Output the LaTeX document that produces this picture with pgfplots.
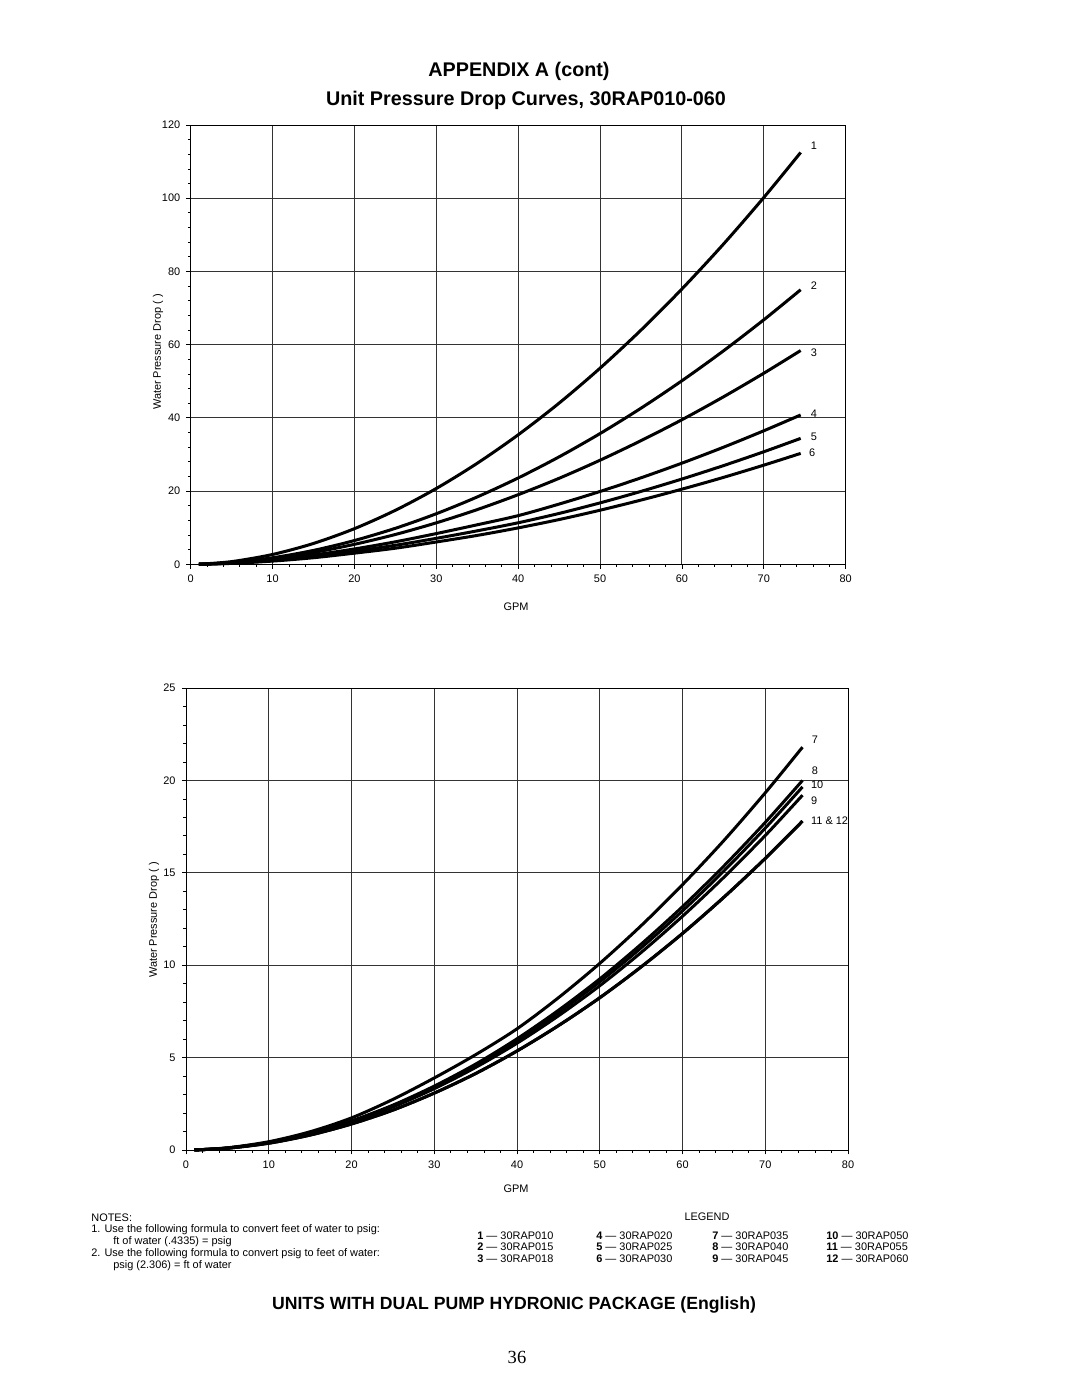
\documentclass[border=0pt]{standalone}
\usepackage{fontspec}
\setmainfont{Liberation Sans}
\newfontfamily\timesfont{Liberation Serif}
\usepackage{pgfplots}
\pgfplotsset{compat=1.18}

\tikzset{
  lab/.style={anchor=west, inner sep=0pt, font=\fontsize{6.2}{7}\selectfont},
}
\pgfplotsset{
  curve/.style={black, line width=1.7pt, smooth, mark=none},
  pd/.style={
    scale only axis,
    clip=false,
    xmin=0, xmax=80, xtick distance=10,
    minor x tick num=4, minor y tick num=4,
    xtick pos=bottom, ytick pos=left,
    grid=major,
    major grid style={black!80, line width=0.55pt},
    axis line style={black, line width=0.55pt},
    tick align=outside,
    major tick length=2.4pt,
    minor tick length=1.5pt,
    every tick/.style={black, line width=0.45pt},
    tick label style={font=\fontsize{6.2}{7}\selectfont},
    /pgf/number format/assume math mode=true,
  },
}

\begin{document}
\begin{tikzpicture}[x=0.5667pt,y=-0.5667pt]
\useasboundingbox (0,0) rectangle (1080,1397);

\node[font=\bfseries\fontsize{11.2}{13}\selectfont] at (519,71) {APPENDIX A (cont)};
\node[font=\bfseries\fontsize{11.2}{13}\selectfont] at (526,100) {Unit Pressure Drop Curves, 30RAP010-060};

% ---------------- top chart ----------------
\begin{axis}[pd, at={(108.07pt,-319.79pt)}, anchor=south west,
  width=371.19pt, height=248.95pt, ymin=0, ymax=120, ytick distance=20]
% 1 - 30RAP010
\addplot[curve] coordinates {(1,0.03) (5,0.74) (10,2.69) (15,5.70) (20,9.74) (25,14.76) (30,20.72) (35,27.61) (40,35.38) (45,44.04) (50,53.58) (55,63.98) (60,75.22) (65,87.29) (70,100.2) (74.5,112.5)};
% 2 - 30RAP015
\addplot[curve] coordinates {(1,0.02) (5,0.49) (10,1.79) (15,3.8) (20,6.5) (25,9.84) (30,13.82) (35,18.41) (40,23.59) (45,29.36) (50,35.72) (55,42.65) (60,50.15) (65,58.19) (70,66.8) (74.5,75.0)};
% 3 - 30RAP018
\addplot[curve] coordinates {(1,0.02) (5,0.45) (10,1.57) (15,3.24) (20,5.46) (25,8.15) (30,11.33) (35,14.95) (40,19.02) (45,23.5) (50,28.44) (55,33.78) (60,39.5) (65,45.66) (70,52.2) (74.5,58.4)};
% 4 - 30RAP020
\addplot[curve] coordinates {(1,0.02) (5,0.4) (10,1.25) (15,2.55) (20,4.2) (25,6.15) (30,8.4) (35,10.8) (40,13.3) (45,16.46) (50,19.9) (55,23.63) (60,27.64) (65,31.92) (70,36.48) (74.5,40.8)};
% 5 - 30RAP025
\addplot[curve] coordinates {(1,0.02) (5,0.3) (10,1.05) (15,2.15) (20,3.6) (25,5.2) (30,7.1) (35,9.15) (40,11.35) (45,13.9) (50,16.78) (55,19.92) (60,23.3) (65,26.91) (70,30.75) (74.5,34.4)};
% 6 - 30RAP030
\addplot[curve] coordinates {(1,0.02) (5,0.25) (10,0.88) (15,1.8) (20,3.05) (25,4.4) (30,6.1) (35,7.9) (40,9.95) (45,12.23) (50,14.78) (55,17.55) (60,20.53) (65,23.7) (70,27.09) (74.5,30.3)};
\node[lab] at (axis cs:75.7,114.4) {1};
\node[lab] at (axis cs:75.7,76.0) {2};
\node[lab] at (axis cs:75.7,57.8) {3};
\node[lab] at (axis cs:75.7,41.1) {4};
\node[lab] at (axis cs:75.7,34.7) {5};
\node[lab] at (axis cs:75.5,30.5) {6};
\end{axis}
\node[rotate=90, font=\fontsize{6.2}{7}\selectfont] at (158,352) {Water Pressure Drop ( )};
\node[font=\fontsize{6.2}{7}\selectfont] at (516,607) {GPM};

% ---------------- bottom chart ----------------
\begin{axis}[pd, at={(105.41pt,-651.71pt)}, anchor=south west,
  width=375.16pt, height=261.82pt, ymin=0, ymax=25, ytick distance=5]
% 7 - 30RAP035
\addplot[curve] coordinates {(1,0.005) (5,0.12) (10,0.45) (15,0.99) (20,1.74) (25,2.74) (30,3.9) (35,5.16) (40,6.56) (45,8.24) (50,10.10) (55,12.14) (60,14.36) (65,16.75) (70,19.33) (74.5,21.8)};
% 8 - 30RAP040
\addplot[curve] coordinates {(1,0.005) (5,0.11) (10,0.41) (15,0.91) (20,1.58) (25,2.43) (30,3.46) (35,4.65) (40,6.02) (45,7.56) (50,9.26) (55,11.14) (60,13.17) (65,15.37) (70,17.73) (74.5,20.0)};
% 10 - 30RAP050
\addplot[curve] coordinates {(1,0.005) (5,0.107) (10,0.407) (15,0.89) (20,1.55) (25,2.39) (30,3.40) (35,4.57) (40,5.92) (45,7.43) (50,9.10) (55,10.94) (60,12.94) (65,15.10) (70,17.42) (74.5,19.65)};
% 9 - 30RAP045
\addplot[curve] coordinates {(1,0.005) (5,0.104) (10,0.397) (15,0.87) (20,1.52) (25,2.33) (30,3.32) (35,4.47) (40,5.78) (45,7.26) (50,8.89) (55,10.69) (60,12.65) (65,14.76) (70,17.02) (74.5,19.2)};
% 11 - 30RAP055
\addplot[curve] coordinates {(1,0.005) (5,0.097) (10,0.368) (15,0.81) (20,1.41) (25,2.16) (30,3.08) (35,4.14) (40,5.36) (45,6.73) (50,8.24) (55,9.91) (60,11.72) (65,13.68) (70,15.78) (74.5,17.8)};
% 12 - 30RAP060
\addplot[curve] coordinates {(1,0.005) (5,0.097) (10,0.368) (15,0.81) (20,1.41) (25,2.16) (30,3.08) (35,4.14) (40,5.36) (45,6.73) (50,8.24) (55,9.91) (60,11.72) (65,13.68) (70,15.78) (74.5,17.8)};
\node[lab] at (axis cs:75.6,22.2) {7};
\node[lab] at (axis cs:75.6,20.5) {8};
\node[lab] at (axis cs:75.5,19.75) {10};
\node[lab] at (axis cs:75.5,18.9) {9};
\node[lab] at (axis cs:75.5,17.8) {11 \& 12};
\end{axis}
\node[rotate=90, font=\fontsize{6.2}{7}\selectfont] at (154,920) {Water Pressure Drop ( )};
\node[font=\fontsize{6.2}{7}\selectfont] at (516,1189) {GPM};

% ---------------- notes ----------------
\begin{scope}[every node/.style={anchor=west, inner sep=0pt, font=\fontsize{6.2}{7}\selectfont}]
\node at (91,1218) {NOTES:};
\node at (91,1230) {1. Use the following formula to convert feet of water to psig:};
\node at (113,1242) {ft of water (.4335) = psig};
\node at (91,1254) {2. Use the following formula to convert psig to feet of water:};
\node at (113,1266) {psig (2.306) = ft of water};
\node at (477,1236) {\textbf{1} --- 30RAP010};
\node at (477,1247) {\textbf{2} --- 30RAP015};
\node at (477,1259) {\textbf{3} --- 30RAP018};
\node at (596,1236) {\textbf{4} --- 30RAP020};
\node at (596,1247) {\textbf{5} --- 30RAP025};
\node at (596,1259) {\textbf{6} --- 30RAP030};
\node at (712,1236) {\textbf{7} --- 30RAP035};
\node at (712,1247) {\textbf{8} --- 30RAP040};
\node at (712,1259) {\textbf{9} --- 30RAP045};
\node at (826,1236) {\textbf{10} --- 30RAP050};
\node at (826,1247) {\textbf{11} --- 30RAP055};
\node at (826,1259) {\textbf{12} --- 30RAP060};
\end{scope}
\node[font=\fontsize{6.2}{7}\selectfont] at (707,1217) {LEGEND};

\node[font=\bfseries\fontsize{10}{12}\selectfont] at (514,1305) {UNITS WITH DUAL PUMP HYDRONIC PACKAGE (English)};
\node[font=\timesfont\fontsize{10.5}{12}\selectfont] at (517,1357) {36};
\end{tikzpicture}
\end{document}
